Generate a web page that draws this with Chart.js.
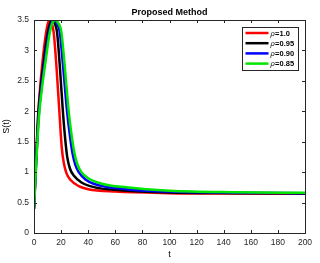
<!DOCTYPE html>
<html>
<head>
<meta charset="utf-8">
<script src="https://cdn.jsdelivr.net/npm/chart.js@4/dist/chart.umd.min.js"></script>
<style>
html,body{margin:0;padding:0;background:#fff;}
canvas{display:block;}
</style>
</head>
<body>
<canvas id="c" width="320" height="263"></canvas>
<script>
// ---- data ----
const seriesLabels = ['ρ=1.0', 'ρ=0.95', 'ρ=0.90', 'ρ=0.85'];
const seriesColors = ['#ff0000', '#000000', '#0000ff', '#00e600'];

const tRed = [0, 1, 2, 3, 4, 6, 8, 10, 11.5, 13, 14.5, 16.5, 18.7, 20.5, 22, 24, 27, 33, 40, 60, 100, 150, 200];
const sRed = [0.4, 0.95, 1.45, 1.92, 2.25, 2.75, 3.15, 3.42, 3.5, 3.45, 3.3, 2.76, 2.0, 1.4, 1.15, 0.98, 0.87, 0.77, 0.72, 0.68, 0.655, 0.648, 0.645];

const tBlack = [0, 1, 2, 3.2, 5, 7.1, 9.6, 11.5, 13.5, 15, 17, 19, 21.3, 23, 24.5, 26.5, 29.5, 35, 45, 60, 100, 150, 200];
const sBlack = [0.4, 0.93, 1.4, 1.95, 2.4, 2.8, 3.22, 3.42, 3.5, 3.46, 3.3, 2.76, 2.0, 1.55, 1.25, 1.06, 0.94, 0.83, 0.75, 0.71, 0.665, 0.655, 0.65];

const tBlue = [0, 1, 2, 3.5, 5, 7.5, 10.5, 12.5, 15, 16.5, 19, 21.4, 24.4, 26.5, 28.5, 30.5, 33, 38, 44, 68, 100, 150, 200];
const sBlue = [0.4, 0.88, 1.34, 1.93, 2.3, 2.75, 3.22, 3.42, 3.5, 3.46, 3.3, 2.76, 2.0, 1.6, 1.3, 1.12, 1.0, 0.88, 0.81, 0.72, 0.68, 0.662, 0.655];

const tGreen = [0, 1, 2, 3, 4.2, 6, 8.4, 11.3, 13.5, 16, 17.5, 20.2, 22.6, 25.6, 27.8, 29.8, 32, 35, 40, 50, 68, 100, 150, 200];
const sGreen = [0.4, 0.85, 1.3, 1.7, 2.05, 2.4, 2.8, 3.25, 3.45, 3.5, 3.46, 3.3, 2.76, 2.0, 1.6, 1.32, 1.13, 1.0, 0.9, 0.81, 0.75, 0.695, 0.67, 0.66];

const xTicks = [0, 20, 40, 60, 80, 100, 120, 140, 160, 180, 200];
const yTicks = [0, 0.5, 1, 1.5, 2, 2.5, 3, 3.5];
const titleText = 'Proposed Method';
const xTitle = 't';
const yTitle = 'S(t)';

// ---- chart ----
const tSets = [tRed, tBlack, tBlue, tGreen];
const sSets = [sRed, sBlack, sBlue, sGreen];
const axisColor = '#262626';
const FONT = 'Liberation Sans, Arial, sans-serif';

const datasets = seriesLabels.map((lab, i) => ({
  label: lab,
  data: tSets[i].map((t, k) => ({x: t, y: sSets[i][k]})),
  borderColor: seriesColors[i],
  backgroundColor: seriesColors[i],
  borderWidth: 2.5,
  pointRadius: 0,
  showLine: true,
  fill: false,
  cubicInterpolationMode: 'monotone',
  order: 4 - i
}));

const framePlugin = {
  id: 'frame',
  afterDatasetsDraw(chart) {
    const {ctx, chartArea: a, scales} = chart;
    ctx.save();
    ctx.strokeStyle = axisColor;
    ctx.lineWidth = 1;
    ctx.strokeRect(Math.round(a.left) + 0.5, Math.round(a.top) + 0.5,
                   Math.round(a.right - a.left), Math.round(a.bottom - a.top));
    const tl = 3;
    ctx.beginPath();
    scales.x.ticks.forEach(tk => {
      const px = Math.round(scales.x.getPixelForValue(tk.value)) + 0.5;
      ctx.moveTo(px, a.bottom); ctx.lineTo(px, a.bottom - tl);
      ctx.moveTo(px, a.top); ctx.lineTo(px, a.top + tl);
    });
    scales.y.ticks.forEach(tk => {
      const py = Math.round(scales.y.getPixelForValue(tk.value)) + 0.5;
      ctx.moveTo(a.left, py); ctx.lineTo(a.left + tl, py);
      ctx.moveTo(a.right, py); ctx.lineTo(a.right - tl, py);
    });
    ctx.stroke();

    // title
    ctx.fillStyle = '#000';
    ctx.font = 'bold 9px ' + FONT;
    ctx.textAlign = 'center';
    ctx.textBaseline = 'middle';
    ctx.fillText(titleText, (a.left + a.right) / 2, 13);

    // legend
    const bx = 242, by = 27.5, bw = 56, bh = 43;
    ctx.fillStyle = '#fff';
    ctx.fillRect(bx, by, bw, bh);
    ctx.strokeStyle = axisColor;
    ctx.strokeRect(bx + 0.5, by, bw, bh);
    chart.data.datasets.forEach((ds, i) => {
      const y = 33 + i * 10.2;
      ctx.strokeStyle = ds.borderColor;
      ctx.lineWidth = 2.5;
      ctx.beginPath();
      ctx.moveTo(245.5, y); ctx.lineTo(268.5, y);
      ctx.stroke();
      ctx.fillStyle = '#000';
      ctx.textAlign = 'left';
      ctx.textBaseline = 'middle';
      ctx.font = 'italic 7.5px ' + FONT;
      const sym = ds.label.charAt(0);
      ctx.fillText(sym, 270.5, y + 0.5);
      const w = ctx.measureText(sym).width;
      ctx.font = 'bold 7.5px ' + FONT;
      ctx.fillText(ds.label.slice(1), 270.5 + w + 0.3, y + 0.5);
    });
    ctx.restore();
  }
};

new Chart(document.getElementById('c'), {
  type: 'scatter',
  data: {datasets},
  options: {
    responsive: false,
    devicePixelRatio: 1,
    animation: false,
    layout: {padding: {top: 20, right: 15, left: 0, bottom: 0}},
    plugins: {legend: {display: false}, tooltip: {enabled: false}, title: {display: false}},
    scales: {
      x: {
        type: 'linear', min: 0, max: 200,
        afterFit(s) { s.height = 30; },
        afterBuildTicks(s) { s.ticks = xTicks.map(v => ({value: v})); },
        grid: {display: false, drawTicks: false},
        border: {display: false},
        ticks: {color: axisColor, font: {family: FONT, size: 8.5}, padding: 5, maxRotation: 0,
                callback: v => String(v)},
        title: {display: true, text: xTitle, color: '#000', font: {family: FONT, size: 9}, padding: {top: 0, bottom: 2.6}}
      },
      y: {
        type: 'linear', min: 0, max: 3.5,
        afterFit(s) { s.width = 34; },
        afterBuildTicks(s) { s.ticks = yTicks.map(v => ({value: v})); },
        grid: {display: false, drawTicks: false},
        border: {display: false},
        ticks: {color: axisColor, font: {family: FONT, size: 8.5}, padding: 5,
                callback: v => String(v)},
        title: {display: true, text: yTitle, color: '#000', font: {family: FONT, size: 9}, padding: {top: 1.6, bottom: 0}}
      }
    }
  },
  plugins: [framePlugin]
});
</script>
</body>
</html>
